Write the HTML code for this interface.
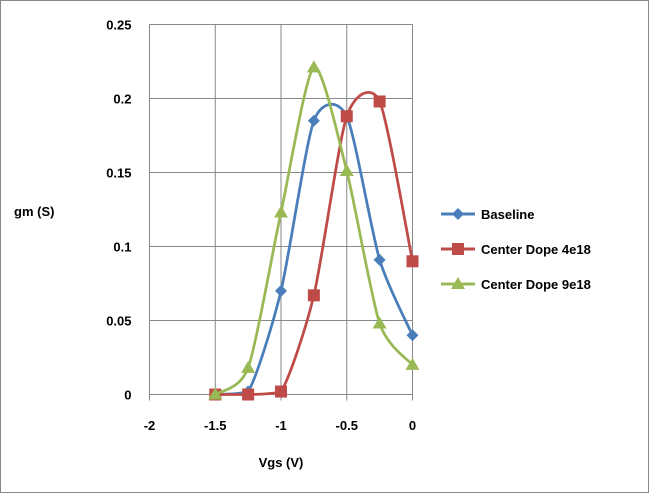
<!DOCTYPE html>
<html><head><meta charset="utf-8"><style>
body{margin:0;background:#fff;}
svg{display:block;font-family:"Liberation Sans",sans-serif;font-weight:bold;}
</style></head><body>
<svg id="c" width="650" height="498">
<rect x="0.5" y="0.5" width="648" height="492" fill="#fff" stroke="#888"/>
<g id="grid"></g><g id="series"></g><g id="axes"></g>
<text x="14" y="216" font-size="13">gm (S)</text>
<text x="281" y="467" font-size="13" text-anchor="middle">Vgs (V)</text>
<g id="legend"></g>
</svg>
<script>
const xVals=[-1.5,-1.25,-1,-0.75,-0.5,-0.25,0];
const baseline=[0,0.002,0.07,0.185,0.188,0.091,0.04];
const dope4=[0,0,0.002,0.067,0.188,0.198,0.09];
const dope9=[0,0.018,0.123,0.221,0.151,0.048,0.02];
const seriesNames=["Baseline","Center Dope 4e18","Center Dope 9e18"];
const xTicks=[-2,-1.5,-1,-0.5,0];
const yTicks=[0,0.05,0.1,0.15,0.2,0.25];
const yTickLabels=["0","0.05","0.1","0.15","0.2","0.25"];
const NS="http://www.w3.org/2000/svg";
const X0=149.5,X1=412.5,Y0=394.5,Y1=24.5;
const sx=v=>X0+(v+2)/2*(X1-X0);
const sy=v=>Y0-v/0.25*(Y0-Y1);
function mk(t,a,p){const e=document.createElementNS(NS,t);for(const k in a)e.setAttribute(k,a[k]);(p||document.getElementById('c')).appendChild(e);return e;}
const grid=document.getElementById('grid'),axes=document.getElementById('axes');
yTicks.forEach((v,i)=>{
 const l=mk('line',{x1:X0,x2:X1,y1:sy(v),y2:sy(v),stroke:'#888','stroke-width':1},grid);
 
 
 const t=mk('text',{x:X0-18,y:sy(v)+5,'font-size':13,'text-anchor':'end'},axes);
 t.textContent=yTickLabels[i];
 
 
});
xTicks.forEach(v=>{
 const l=mk('line',{x1:sx(v),x2:sx(v),y1:Y1,y2:Y0+6,stroke:'#888','stroke-width':1},grid);
 
 
 const t=mk('text',{x:sx(v),y:430,'font-size':13,'text-anchor':'middle'},axes);
 t.textContent=String(v);
 
 
});
const colors=["#4a7ebb","#be4b48","#98b954"];
const data=[baseline,dope4,dope9];
function smooth(pts){
 let d=`M${pts[0][0]},${pts[0][1]}`;
 for(let i=0;i<pts.length-1;i++){
  const p0=pts[Math.max(0,i-1)],p1=pts[i],p2=pts[i+1],p3=pts[Math.min(pts.length-1,i+2)];
  const t=0.12;
  const c1=[p1[0]+(p2[0]-p0[0])*t,Math.min(Y0,p1[1]+(p2[1]-p0[1])*t)];
  const c2=[p2[0]-(p3[0]-p1[0])*t,Math.min(Y0,p2[1]-(p3[1]-p1[1])*t)];
  d+=` C${c1[0]},${c1[1]} ${c2[0]},${c2[1]} ${p2[0]},${p2[1]}`;
 }
 return d;
}
function marker(k,x,y,g){
 let e;
 if(k==0)e=mk('polygon',{points:`${x},${y-6} ${x+6},${y} ${x},${y+6} ${x-6},${y}`,fill:colors[0]},g);
 else if(k==1)e=mk('rect',{x:x-6,y:y-6,width:12,height:12,fill:colors[1]},g);
 else e=mk('polygon',{points:`${x},${y-7} ${x+7},${y+5} ${x-7},${y+5}`,fill:colors[2]},g);
 return e;
}
const sg=document.getElementById('series');
data.forEach((arr,k)=>{
 const g=mk('g',{},sg);
 
 
 const pts=xVals.map((x,i)=>[sx(x),sy(arr[i])]);
 const p=mk('path',{d:smooth(pts),fill:'none',stroke:colors[k],'stroke-width':2.75},g);
 
 
 pts.forEach(q=>{const m=marker(k,q[0],q[1],g);
  
  });
});
const lg=document.getElementById('legend');
seriesNames.forEach((n,k)=>{
 const y=214+k*35;
 const g=mk('g',{},lg);
 
 
 mk('line',{x1:441,x2:475,y1:y,y2:y,stroke:colors[k],'stroke-width':3},g);
 marker(k,458,y,g);
 const t=mk('text',{x:481,y:y+5,'font-size':13},g);
 t.textContent=n;
});
</script>
</body></html>
